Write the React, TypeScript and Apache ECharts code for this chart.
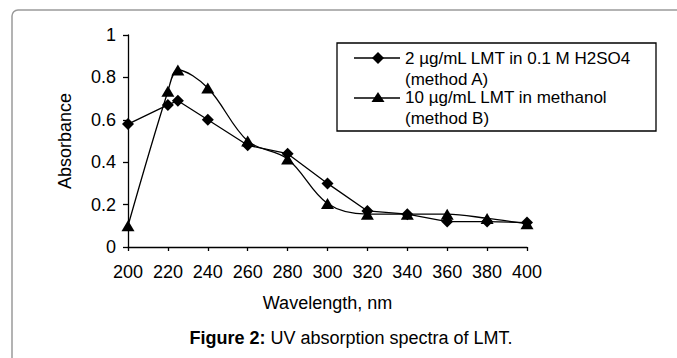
import React, { useEffect, useRef } from "react";
import * as echarts from "echarts";

const wavelengths = [200, 220, 225, 240, 260, 280, 300, 320, 340, 360, 380, 400];
const methodA = [0.58, 0.67, 0.69, 0.6, 0.48, 0.44, 0.3, 0.17, 0.155, 0.12, 0.12, 0.115];
const methodB = [0.1, 0.735, 0.835, 0.75, 0.5, 0.415, 0.205, 0.155, 0.155, 0.155, 0.135, 0.11];
const nameA = "2 µg/mL LMT in 0.1 M H2SO4";
const nameA2 = "(method A)";
const nameB = "10 µg/mL LMT in methanol";
const nameB2 = "(method B)";
const xTicks = { min: 200, max: 400, interval: 20 };
const yTicks = { min: 0, max: 1, interval: 0.2 };

const FONT = "'Liberation Sans', Arial, sans-serif";

export default function App() {
  const ref = useRef<HTMLDivElement>(null);
  useEffect(() => {
    document.body.style.margin = "0";
    const chart = echarts.init(ref.current!, null, { renderer: "svg" });
    const txt = { fontFamily: FONT, fontSize: 18, color: "#000" };
    const legendText = (text: string, y: number) => ({
      type: "text",
      x: 405,
      y,
      style: { text, fontFamily: FONT, fontSize: 17, fill: "#000", verticalAlign: "middle" },
      z: 11,
    });
    chart.setOption({
      animation: false,
      backgroundColor: "#fff",
      grid: { left: 128, right: 150, top: 35, bottom: 111, containLabel: false },
      xAxis: {
        type: "value",
        ...xTicks,
        name: "Wavelength, nm",
        nameLocation: "middle",
        nameGap: 47,
        nameTextStyle: txt,
        axisLine: { lineStyle: { color: "#000", width: 1.3 } },
        axisTick: { show: true, length: 4, lineStyle: { color: "#000", width: 1.3 } },
        axisLabel: { ...txt, margin: 16 },
        splitLine: { show: false },
      },
      yAxis: {
        type: "value",
        ...yTicks,
        name: "Absorbance",
        nameLocation: "middle",
        nameGap: 54,
        nameTextStyle: txt,
        axisLine: { show: true, lineStyle: { color: "#000", width: 1.3 } },
        axisTick: { show: true, length: 5, lineStyle: { color: "#000", width: 1.3 } },
        axisLabel: { ...txt, margin: 12, formatter: (v: number) => String(+v.toFixed(1)) },
        splitLine: { show: false },
      },
      series: [
        {
          name: nameA,
          type: "line",
          data: wavelengths.map((w, i) => [w, methodA[i]]),
          symbol: "diamond",
          symbolSize: 12,
          itemStyle: { color: "#000" },
          lineStyle: { color: "#000", width: 1.3 },
        },
        {
          name: nameB,
          type: "line",
          smooth: 0.35,
          data: wavelengths.map((w, i) => [w, methodB[i]]),
          symbol: "triangle",
          symbolSize: [13, 11],
          itemStyle: { color: "#000" },
          lineStyle: { color: "#000", width: 1.3 },
        },
      ],
      graphic: [
        {
          type: "rect",
          shape: { x: 12, y: 10, width: 720, height: 420, r: 6 },
          style: { fill: "none", stroke: "#9a9a9a", lineWidth: 1.5 },
          silent: true,
        },
        {
          type: "rect",
          shape: { x: 337, y: 43, width: 319, height: 88 },
          style: { fill: "#fff", stroke: "#000", lineWidth: 1.3 },
          z: 10,
        },
        {
          type: "line",
          shape: { x1: 354, y1: 58, x2: 400, y2: 58 },
          style: { stroke: "#000", lineWidth: 1.3 },
          z: 11,
        },
        {
          type: "polygon",
          shape: { points: [[378, 52], [384, 58], [378, 64], [372, 58]] },
          style: { fill: "#000" },
          z: 11,
        },
        {
          type: "line",
          shape: { x1: 354, y1: 98, x2: 400, y2: 98 },
          style: { stroke: "#000", lineWidth: 1.3 },
          z: 11,
        },
        {
          type: "polygon",
          shape: { points: [[378, 92], [384.5, 102], [371.5, 102]] },
          style: { fill: "#000" },
          z: 11,
        },
        legendText(nameA, 58),
        legendText(nameA2, 79),
        legendText(nameB, 97),
        legendText(nameB2, 118),
        {
          type: "text",
          x: 351,
          y: 338,
          style: {
            text: "{b|Figure 2:} UV absorption spectra of LMT.",
            fontFamily: FONT,
            fontSize: 18,
            fill: "#000",
            align: "center",
            verticalAlign: "middle",
            rich: { b: { fontWeight: "bold", fontFamily: FONT, fontSize: 18 } },
          },
        },
      ],
    });
    return () => chart.dispose();
  }, []);
  return <div ref={ref} style={{ width: 677, height: 358 }} />;
}
